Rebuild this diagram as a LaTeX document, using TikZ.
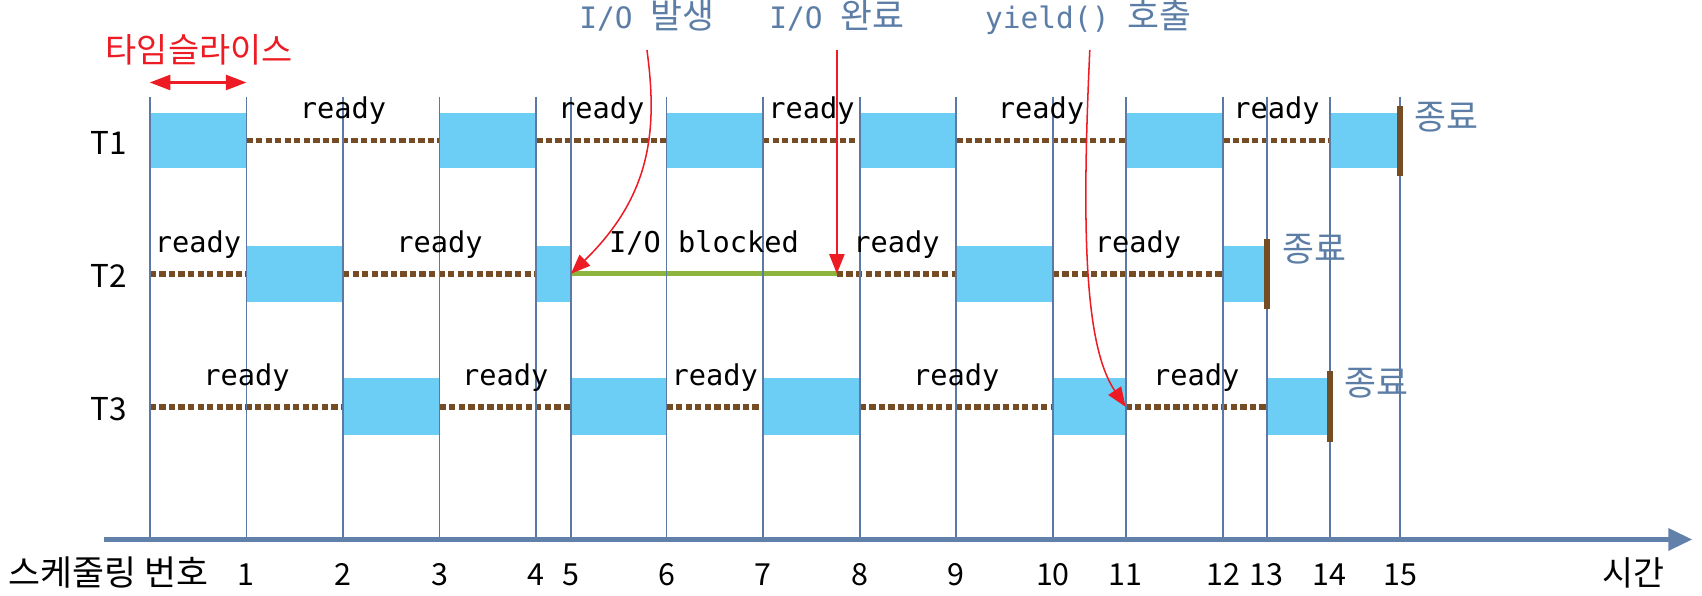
\documentclass[tikz,border=0pt]{standalone}
\usepackage{fontspec}
\setmainfont{Noto Sans CJK KR}
\newfontfamily\monof{DejaVu Sans Mono}
\usetikzlibrary{arrows.meta}
\definecolor{runblue}{RGB}{108,205,245}
\definecolor{waitbrown}{RGB}{117,76,36}
\definecolor{gridblue}{RGB}{90,122,165}
\definecolor{noteblue}{RGB}{91,125,166}
\definecolor{blockgreen}{RGB}{141,181,61}
\definecolor{arrred}{RGB}{237,28,36}
\tikzset{
  runbox/.style={fill=runblue},
  waitline/.style={draw=waitbrown, line width=2.6pt, dash pattern=on 2.9pt off 1.5pt},
  gridline/.style={draw=gridblue, line width=0.8pt},
  endbar/.style={draw=waitbrown, line width=2.7pt},
  statelbl/.style={font=\monof\fontsize{13.2}{13.2}\selectfont, anchor=base, inner sep=0pt},
  rowlbl/.style={font=\fontsize{14.5}{14.5}\selectfont, anchor=base, inner sep=0pt},
  ticklbl/.style={font=\fontsize{14}{14}\selectfont, anchor=base, inner sep=0pt},
  endlbl/.style={font=\fontsize{16}{16}\selectfont, text=noteblue, anchor=base west, inner sep=0pt},
  notelbl/.style={text=noteblue, anchor=base, inner sep=0pt},
  redarrow/.style={draw=arrred, line width=0.7pt, -{Triangle[length=9pt,width=7pt]}},
}
\newcommand{\monotxt}[1]{{\monof\fontsize{13.6}{13.6}\selectfont #1}}
\newcommand{\kortxt}[1]{{\fontsize{16}{16}\selectfont #1}}
\begin{document}
\begin{tikzpicture}[x=0.5pt,y=-0.5pt]
\useasboundingbox (0,0) rectangle (1568,549);
% run boxes
\foreach \a/\b in {138/227,405/494,614/703,792/881,1037/1127,1225/1290}
  \fill[runbox] (\a,104) rectangle (\b,155);
\foreach \a/\b in {227/316,494/526,881/970,1127/1167}
  \fill[runbox] (\a,226.5) rectangle (\b,278);
\foreach \a/\b in {316/405,526/614,703/792,970/1037,1167/1225}
  \fill[runbox] (\a,348.5) rectangle (\b,400.7);
% waiting (ready) lines
\foreach \a/\b in {227/405,494/614,703/792,881/1037,1127/1225}
  \draw[waitline] (\a,129.5) -- (\b,129.5);
\foreach \a/\b in {138/227,316/494,771/881,970/1127}
  \draw[waitline] (\a,252.2) -- (\b,252.2);
\foreach \a/\b in {138/316,405/526,614/703,792/970,1037/1167}
  \draw[waitline] (\a,374.8) -- (\b,374.8);
% blocked
\coordinate (blkS) at (526,252.2);
\coordinate (blkE) at (771,252.2);
\draw[draw=blockgreen, line width=2.4pt] (blkS) -- (blkE);
% grid lines and tick labels
\foreach \x/\n in {227/1,316/2,405/3,494/4,526/5,614/6,703/7,792/8,881/9,970/10,1037/11,1127/12,1167/13,1225/14,1290/15}{
  \draw[gridline] (\x,89) -- (\x,497);
  \node[ticklbl] (tick\n) at (\x,539) {\n};
}
\draw[gridline] (138,89) -- (138,497);
% end bars
\draw[endbar] (1290,97.5) -- (1290,162);
\draw[endbar] (1167,220) -- (1167,284.5);
\draw[endbar] (1225,342) -- (1225,407);
\node[endlbl] (end1) at (1303,119) {종료};
\node[endlbl] (end2) at (1181,241) {종료};
\node[endlbl] (end3) at (1238,364) {종료};
% state labels
\foreach \x [count=\i] in {316,554,747.5,959,1176}
  \node[statelbl] (ra\i) at (\x,109.5) {ready};
\foreach \x [count=\i] in {182.5,405,826,1048.5}
  \node[statelbl] (rb\i) at (\x,232.2) {ready};
\node[statelbl] (blk) at (648.5,232.2) {I/O blocked};
\foreach \x [count=\i] in {227,465.5,658.5,881,1102}
  \node[statelbl] (rc\i) at (\x,354.8) {ready};
% row labels
\node[rowlbl] (T1) at (100.5,142.5) {T1};
\node[rowlbl] (T2) at (100.5,265) {T2};
\node[rowlbl] (T3) at (100.5,387.5) {T3};
% axis
\coordinate (axS) at (96,497);
\coordinate (axE) at (1559,497);
\draw[draw=gridblue!95!white, line width=2pt, -{Triangle[length=11pt,width=10pt]}] (axS) -- (axE);
\node[font=\fontsize{16}{16}\selectfont, anchor=base east, inner sep=0pt] (sched) at (192,539) {스케줄링 번호};
\node[font=\fontsize{15.5}{15.5}\selectfont, anchor=base west, inner sep=0pt] (time) at (1476,539) {시간};
% time slice
\node[font=\fontsize{15.6}{15.6}\selectfont, text=arrred, anchor=base, inner sep=0pt] (slice) at (183.5,58) {타임슬라이스};
\coordinate (slA) at (138,76);
\coordinate (slB) at (227,76);
\draw[draw=arrred, line width=1pt, {Triangle[length=9.5pt,width=7pt]}-{Triangle[length=9.5pt,width=7pt]}] (slA) -- (slB);
% annotations
\node[notelbl] (ioA) at (596,26) {\monotxt{I/O\ }\kortxt{발생}};
\node[notelbl] (ioB) at (771,26) {\monotxt{I/O\ }\kortxt{완료}};
\node[notelbl] (yld) at (1002.5,26) {\monotxt{yield()\ }\kortxt{호출}};
\coordinate (ioAs) at (596,46);
\coordinate (ioBs) at (771,46);
\coordinate (yldS) at (1004,46);
\coordinate (yldE) at (1037,374.8);
\draw[redarrow] (ioAs) .. controls (606,120) and (600,180) .. (blkS);
\draw[redarrow] (ioBs) -- (blkE);
\draw[redarrow] (yldS) .. controls (996,220) and (1000,320) .. (yldE);
\end{tikzpicture}
\end{document}
